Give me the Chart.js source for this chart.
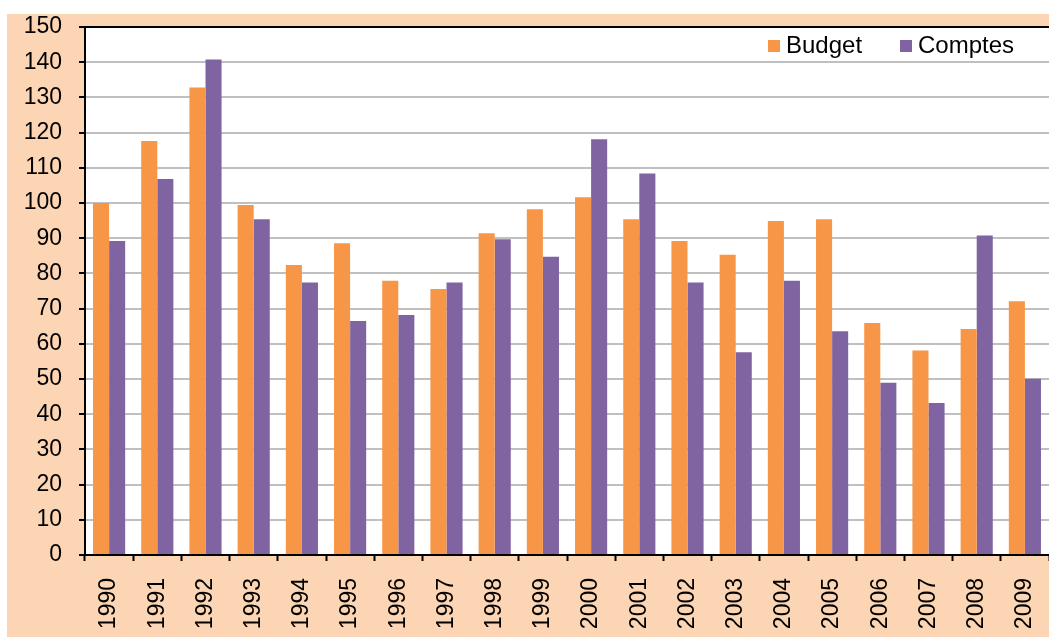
<!DOCTYPE html>
<html>
<head>
<meta charset="utf-8">
<script src="https://cdn.jsdelivr.net/npm/chart.js@4"></script>
<style>
    html, body { margin: 0; padding: 0; background: #ffffff; overflow: hidden; }
    #wrap {
        position: absolute;
        left: 7px;
        top: 14px;
        width: 1042px;
        height: 623px;
        background: #FCD5B4;
    }
</style>
</head>
<body>
<div id="wrap"><canvas id="budgetChart"></canvas></div>
<script>
const years = ['1990', '1991', '1992', '1993', '1994', '1995', '1996', '1997', '1998', '1999',
               '2000', '2001', '2002', '2003', '2004', '2005', '2006', '2007', '2008', '2009'];
const budget = [100, 117.6, 132.8, 99.4, 82.4, 88.6, 77.9, 75.6, 91.4, 98.2,
                101.6, 95.4, 89.2, 85.3, 94.9, 95.4, 65.9, 58.1, 64.2, 72.1];
const comptes = [89.2, 106.8, 140.8, 95.4, 77.4, 66.5, 68.2, 77.4, 89.7, 84.7,
                 118.1, 108.4, 77.4, 57.6, 77.9, 63.6, 48.9, 43.2, 90.8, 50.1];
const yMin = 0;
const yMax = 150;
const yStep = 10;

const FONT = '"Liberation Sans", Arial, sans-serif';

// белый фон области построения
const plotBg = {
    id: 'plotBg',
    beforeDraw(chart) {
        const a = chart.chartArea;
        chart.ctx.save();
        chart.ctx.fillStyle = '#ffffff';
        chart.ctx.fillRect(a.left, a.top, a.right - a.left, a.bottom - a.top);
        chart.ctx.restore();
    }
};

// легенда в правом верхнем углу области графика
const legendInside = {
    id: 'legendInside',
    afterDraw(chart) {
        const ctx = chart.ctx;
        const xs = [761, 893];
        ctx.save();
        ctx.font = '24px ' + FONT;
        ctx.textBaseline = 'middle';
        chart.data.datasets.forEach((ds, i) => {
            ctx.fillStyle = ds.backgroundColor;
            ctx.fillRect(xs[i], 26, 12, 12);
            ctx.fillStyle = '#000000';
            ctx.fillText(ds.label, xs[i] + 18, 32);
        });
        ctx.restore();
    }
};

const ctx = document.getElementById('budgetChart').getContext('2d');

new Chart(ctx, {
    type: 'bar',
    data: {
        labels: years,
        datasets: [{
            label: 'Budget',
            data: budget,
            backgroundColor: '#F79646',
            borderWidth: 0
        }, {
            label: 'Comptes',
            data: comptes,
            backgroundColor: '#8064A2',
            borderWidth: 0
        }]
    },
    options: {
        responsive: true,
        maintainAspectRatio: false,
        animation: false,
        layout: {
            padding: { top: 13, right: 0, left: 0, bottom: 0 }
        },
        datasets: {
            bar: {
                categoryPercentage: 0.667,
                barPercentage: 1.0
            }
        },
        scales: {
            x: {
                offset: true,
                afterFit: (axis) => {
                    axis.height = 82;
                    axis.paddingLeft = 0;
                    axis.paddingRight = 0;
                },
                grid: {
                    offset: true,
                    drawOnChartArea: false,
                    drawTicks: true,
                    tickLength: 6,
                    tickColor: '#000000',
                    tickWidth: 2
                },
                border: { color: '#000000', width: 2 },
                ticks: {
                    minRotation: 90,
                    maxRotation: 90,
                    autoSkip: false,
                    padding: 17,
                    color: '#000000',
                    font: { family: FONT, size: 23 }
                }
            },
            y: {
                min: yMin,
                max: yMax,
                afterFit: (axis) => {
                    axis.width = 78;
                    axis.paddingTop = 0;
                    axis.paddingBottom = 0;
                },
                grid: {
                    color: (c) => c.tick && c.tick.value === yMax ? '#000000' : '#C0C0C0',
                    lineWidth: 2,
                    tickLength: 6,
                    tickColor: '#000000',
                    tickWidth: 2
                },
                border: { color: '#000000', width: 2 },
                ticks: {
                    stepSize: yStep,
                    padding: 17,
                    color: '#000000',
                    font: { family: FONT, size: 23 }
                }
            }
        },
        plugins: {
            legend: { display: false },
            tooltip: { enabled: false }
        }
    },
    plugins: [plotBg, legendInside]
});
</script>
</body>
</html>
